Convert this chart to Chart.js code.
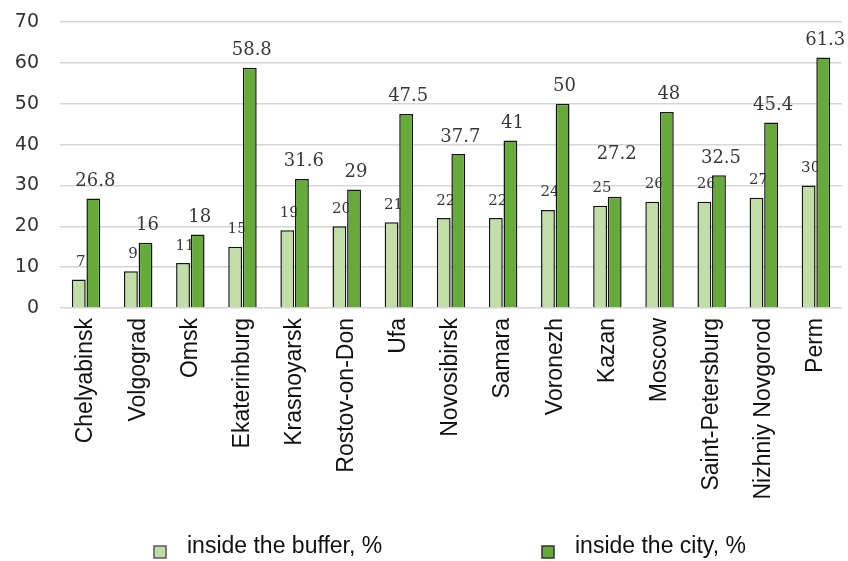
<!DOCTYPE html>
<html>
<head>
<meta charset="utf-8">
<script src="https://cdn.jsdelivr.net/npm/chart.js@4.4.1/dist/chart.umd.min.js"></script>
<style>
  html, body { margin: 0; padding: 0; background: #ffffff; }
  canvas { display: block; }
</style>
</head>
<body>
<canvas id="chart" width="848" height="561"></canvas>
<script>
// Share of green areas by city, %
const cities = [
  'Chelyabinsk', 'Volgograd', 'Omsk', 'Ekaterinburg', 'Krasnoyarsk',
  'Rostov-on-Don', 'Ufa', 'Novosibirsk', 'Samara', 'Voronezh',
  'Kazan', 'Moscow', 'Saint-Petersburg', 'Nizhniy Novgorod', 'Perm'
];
const bufferShare = [7, 9, 11, 15, 19, 20, 21, 22, 22, 24, 25, 26, 26, 27, 30];
const cityShare = [26.8, 16, 18, 58.8, 31.6, 29, 47.5, 37.7, 41, 50, 27.2, 48, 32.5, 45.4, 61.3];
const yTicks = [0, 10, 20, 30, 40, 50, 60, 70];
const seriesNames = ['inside the buffer, %', 'inside the city, %'];

const LIGHT = '#c1dea9';
const DARK = '#66aa39';
const EDGE = '#151515';

// Value labels: the buffer labels go under the bars, the city labels on top.
function drawValueLabels(chart, dsIndex, fontSize, extraLift) {
  const meta = chart.getDatasetMeta(dsIndex);
  const values = chart.data.datasets[dsIndex].data;
  const ctx = chart.ctx;
  ctx.save();
  ctx.font = fontSize + 'px "DejaVu Serif"';
  ctx.fillStyle = '#383838';
  ctx.textAlign = 'center';
  ctx.textBaseline = 'alphabetic';
  meta.data.forEach((bar, i) => {
    const lift = 19 + (extraLift[i] || 0);
    ctx.fillText(String(values[i]), bar.x + 2, bar.y - lift + fontSize * 0.365);
  });
  ctx.restore();
}

const valueLabels = {
  id: 'valueLabels',
  beforeDatasetsDraw(chart) { drawValueLabels(chart, 0, 15, {}); },
  afterDatasetsDraw(chart) { drawValueLabels(chart, 1, 18, { 10: 25 }); }
};

// Legend drawn below the axis labels
const bottomLegend = {
  id: 'bottomLegend',
  afterDraw(chart) {
    const ctx = chart.ctx;
    const items = [
      { x: 154, fill: LIGHT, edge: '#555555' },
      { x: 542, fill: DARK, edge: '#333333' }
    ];
    ctx.save();
    ctx.font = '23px "Liberation Sans"';
    ctx.textBaseline = 'alphabetic';
    ctx.textAlign = 'left';
    items.forEach((it, i) => {
      ctx.fillStyle = it.fill;
      ctx.fillRect(it.x, 546, 12, 12);
      ctx.strokeStyle = it.edge;
      ctx.lineWidth = 1.5;
      ctx.strokeRect(it.x, 546, 12, 12);
      ctx.fillStyle = '#111111';
      ctx.fillText(seriesNames[i], it.x + 33, 553);
    });
    ctx.restore();
  }
};

new Chart(document.getElementById('chart'), {
  type: 'bar',
  data: {
    labels: cities,
    datasets: [
      {
        label: seriesNames[0],
        data: bufferShare,
        backgroundColor: LIGHT,
        borderColor: EDGE,
        borderWidth: 1.5,
        categoryPercentage: 0.56,
        barPercentage: 0.95
      },
      {
        label: seriesNames[1],
        data: cityShare,
        backgroundColor: DARK,
        borderColor: EDGE,
        borderWidth: 1.5,
        categoryPercentage: 0.56,
        barPercentage: 0.95
      }
    ]
  },
  options: {
    responsive: false,
    animation: false,
    layout: { padding: { left: 16, right: 6, top: 22, bottom: 47 } },
    plugins: {
      legend: { display: false },
      tooltip: { enabled: false }
    },
    scales: {
      x: {
        grid: { display: false },
        border: { display: false },
        afterFit(scale) {
          scale.paddingLeft = 0;
          scale.paddingRight = 0;
          scale.height = 206;
        },
        ticks: {
          autoSkip: false,
          maxRotation: 90,
          minRotation: 90,
          padding: 2,
          color: '#111111',
          font: { family: '"Liberation Sans"', size: 23 }
        }
      },
      y: {
        min: 0,
        max: 70,
        afterBuildTicks(scale) { scale.ticks = yTicks.map(v => ({ value: v })); },
        afterFit(scale) {
          scale.width = 44;
          scale.paddingTop = 0;
          scale.paddingBottom = 0;
        },
        grid: { color: '#d6d6d6', lineWidth: 1.5, drawTicks: false },
        border: { display: false },
        ticks: {
          padding: 21,
          color: '#333333',
          font: { family: '"DejaVu Sans"', size: 19 }
        }
      }
    }
  },
  plugins: [valueLabels, bottomLegend]
});
</script>
</body>
</html>
